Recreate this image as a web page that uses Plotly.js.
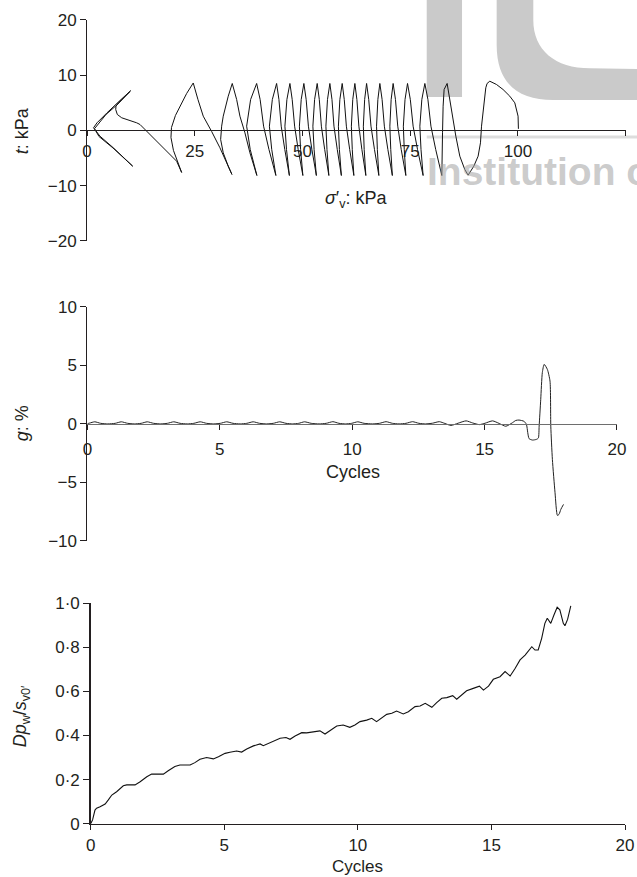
<!DOCTYPE html>
<html>
<head>
<meta charset="utf-8">
<script src="https://cdn.plot.ly/plotly-3.0.1.min.js"></script>
<style>
html,body{margin:0;padding:0;background:#fff;}
#chart{width:637px;height:877px;}
</style>
</head>
<body>
<div id="chart"></div>
<script>
// ---- Panel 1: stress path  t vs sigma'v (kPa)
const sigmaV = [
100.10,100.02,99.26,98.10,96.54,95.01,93.46,
92.83,92.53,92.30,91.91,91.54,91.30,90.75,89.75,88.43,
87.66,86.50,85.58,84.95,84.35,83.79,83.56,
82.86,82.63,82.49,82.40,82.33,
80.91,79.80,79.10,78.39, 77.69,77.23,77.50,77.99,
76.69,75.67,75.02,74.37, 73.79,73.40,73.61,73.98,
72.91,72.10,71.57,71.03, 70.57,70.27,70.48,70.85,
69.81,68.99,68.47,67.95, 67.49,67.18,67.37,67.72,
66.70,65.89,65.37,64.87, 64.42,64.12,64.31,64.70,
63.78,63.08,62.62,62.15, 61.66,61.34,61.55,61.92,
60.95,60.18,59.69,59.21, 58.67,58.33,58.56,59.02,
58.07,57.30,56.84,56.35, 55.80,55.43,55.68,56.12,
55.15,54.38,53.90,53.41, 52.81,52.41,52.69,53.22,
52.18,51.37,50.85,50.32, 49.70,49.28,49.56,50.09,
49.00,48.17,47.61,47.08, 46.38,45.92,46.29,46.96,
45.89,45.06,44.53,43.99, 43.00,42.32,42.86,43.83,
42.22,40.97,40.17,39.36, 37.96,37.04,37.87,39.42,
37.80,36.64,35.48,34.72,33.70, 32.77,31.61,31.24,31.01,31.61,32.77,33.63,
32.24,30.84,28.92,26.97,25.74,24.65, 23.12,21.96,20.52,19.60,19.48,20.06,20.99,21.96,
20.80,19.25,16.93,15.38,13.45,12.29,11.53,9.97,8.05,7.03,6.66,6.73,7.26,8.05,9.21,10.13,
7.65,4.64,2.32,1.51,3.01,6.10,10.60,6.03,2.78,1.74,4.41,7.19,9.86
];
const tauT = [
0.30,2.59,5.01,6.21,7.42,8.33,8.92,
8.51,7.73,6.21,3.80,0.78,-2.23,-4.65,-6.46,-8.09,
-7.06,-4.65,-1.03,1.99,5.01,7.42,8.51,
7.42,4.40,-0.42,-4.65,-8.15,
-3.44,0.78,5.61,8.51, 5.61,0.78,-3.44,-8.15,
-3.44,0.78,5.61,8.51, 5.61,0.78,-3.44,-8.15,
-3.44,0.78,5.61,8.51, 5.61,0.78,-3.44,-8.15,
-3.44,0.78,5.61,8.51, 5.61,0.78,-3.44,-8.15,
-3.44,0.78,5.61,8.51, 5.61,0.78,-3.44,-8.15,
-3.44,0.78,5.61,8.51, 5.61,0.78,-3.44,-8.15,
-3.44,0.78,5.61,8.51, 5.61,0.78,-3.44,-8.15,
-3.44,0.78,5.61,8.51, 5.61,0.78,-3.44,-8.15,
-3.44,0.78,5.61,8.51, 5.61,0.78,-3.44,-8.15,
-3.44,0.78,5.61,8.51, 5.61,0.78,-3.44,-8.15,
-3.44,0.78,5.61,8.51, 5.61,0.78,-3.44,-8.15,
-3.44,0.78,5.61,8.51, 5.61,0.78,-3.44,-8.15,
-3.44,0.78,5.61,8.51, 5.61,0.78,-3.44,-8.15,
-4.04,-0.42,2.59,5.61,8.51, 6.21,2.59,0.78,-1.63,-4.04,-6.46,-7.96,
-5.79,-3.13,-0.18,2.59,5.61,8.60, 6.70,5.01,2.72,0.54,-1.27,-3.62,-5.43,-7.60,
-5.56,-4.34,-2.53,-1.32,0.18,1.09,1.39,1.86,2.30,2.90,3.80,4.40,5.01,5.61,6.52,7.20,
5.43,3.20,1.39,0.49,-1.03,-3.13,-6.46,-3.17,-1.09,0.33,2.90,4.80,6.97
];
const sigmaTicks = [0, 25, 50, 75, 100, 125];
const tauTicks = [-20, -10, 0, 10, 20];

// ---- Panel 2: shear strain g (%) vs cycles
const gCycles = [
0,0.08,0.28,0.50,0.77,1.05,1.28,1.52,1.77,2.03,2.26,2.50,2.77,3.02,3.26,3.50,3.77,
4.02,4.26,4.50,4.77,5.02,5.26,5.50,5.77,6.02,6.26,6.50,6.77,7.02,7.26,7.50,7.75,
7.98,8.20,8.45,8.75,9.02,9.27,9.50,9.75,9.98,10.21,10.45,10.77,11.03,11.28,11.52,11.77,
12.03,12.28,12.52,12.77,13.03,13.29,13.50,13.73,14.00,14.30,14.55,14.80,15.02,15.30,15.55,15.80,
16.05,16.18,16.30,16.49,16.58,16.63,16.68,16.81,16.96,17.03,17.06,17.12,17.18,17.25,17.37,17.47,
17.50,17.56,17.66,17.75,17.81,17.88,17.98
];
const gStrain = [
0,0.05,0.16,0.03,-0.02,0.03,0.16,0.03,-0.02,0.03,0.16,0.03,-0.02,0.03,0.16,0.03,-0.02,
0.03,0.16,0.03,-0.02,0.03,0.16,0.03,-0.02,0.03,0.16,0.03,-0.02,0.03,0.16,0.03,-0.02,
0.03,0.16,0.03,-0.02,0.03,0.17,0.03,-0.02,0.03,0.16,0.03,-0.02,0.03,0.17,0.03,-0.02,
0.03,0.17,0.03,-0.02,0.04,0.17,0.02,-0.15,0.04,0.24,0.06,-0.08,0.04,0.24,0.02,-0.22,
0.08,0.28,0.31,0.20,-0.06,-0.77,-1.28,-1.40,-1.34,-1.23,-0.21,2.08,4.36,5.07,4.64,3.64,
-0.21,-3.05,-5.90,-7.84,-7.75,-7.32,-6.90
];
const cycleTicks = [0, 5, 10, 15, 20];
const gTicks = [-10, -5, 0, 5, 10];

// ---- Panel 3: pore pressure ratio vs cycles
const pwCycles = [
0,0.07,0.16,0.22,0.35,0.54,0.66,0.79,0.97,1.10,1.22,1.35,1.66,1.85,2.10,2.28,2.72,2.90,3.15,3.34,
3.72,3.90,4.09,4.34,4.59,4.78,5.03,5.21,5.46,5.65,5.84,6.09,6.34,6.46,6.65,6.84,7.09,7.31,7.46,7.65,
7.90,8.08,8.33,8.58,8.77,9.02,9.21,9.45,9.70,9.89,10.08,10.33,10.52,10.70,10.89,11.08,11.27,11.45,11.70,11.89,
12.14,12.33,12.52,12.77,12.95,13.14,13.33,13.55,13.70,13.89,14.07,14.32,14.55,14.70,14.89,15.07,15.32,15.51,15.70,15.89,
16.07,16.26,16.51,16.63,16.75,16.88,17.00,17.09,17.22,17.34,17.46,17.56,17.69,17.75,17.85,17.97
];
const pwRatio = [
0,0.017,0.062,0.070,0.077,0.089,0.108,0.130,0.145,0.160,0.172,0.176,0.176,0.190,0.213,0.225,0.225,0.240,0.259,0.266,
0.266,0.277,0.292,0.300,0.294,0.304,0.319,0.324,0.330,0.325,0.339,0.353,0.362,0.354,0.365,0.377,0.388,0.391,0.383,0.398,
0.413,0.412,0.418,0.421,0.407,0.428,0.443,0.448,0.437,0.448,0.463,0.470,0.478,0.463,0.478,0.496,0.501,0.511,0.498,0.508,
0.531,0.534,0.546,0.528,0.549,0.569,0.572,0.581,0.565,0.584,0.603,0.614,0.624,0.606,0.624,0.655,0.667,0.690,0.670,0.705,
0.743,0.765,0.803,0.788,0.788,0.841,0.909,0.932,0.909,0.947,0.982,0.970,0.909,0.898,0.927,0.988
];
const pwTicks = [0, 0.2, 0.4, 0.6, 0.8, 1.0];
const pwTickText = ['0', '0·2', '0·4', '0·6', '0·8', '1·0'];

const INK = '#231f20';
const FONT = 'Liberation Sans, Arial, Helvetica, sans-serif';

const traces = [
  {x: sigmaV, y: tauT, xaxis: 'x', yaxis: 'y', type: 'scatter', mode: 'lines',
   line: {color: '#111', width: 1}, hoverinfo: 'skip'},
  {x: gCycles, y: gStrain, xaxis: 'x2', yaxis: 'y2', type: 'scatter', mode: 'lines',
   line: {color: '#222', width: 1, shape: 'spline', smoothing: 0.6}, hoverinfo: 'skip'},
  {x: pwCycles, y: pwRatio, xaxis: 'x3', yaxis: 'y3', type: 'scatter', mode: 'lines',
   line: {color: '#111', width: 1.1}, hoverinfo: 'skip'}
];

function xAx(extra) {
  return Object.assign({
    showline: true, linecolor: INK, linewidth: 1, ticks: 'outside', ticklen: 5,
    tickcolor: INK, tickwidth: 1, showgrid: false, zeroline: false,
    tickfont: {family: FONT, size: 17, color: INK}, tickmode: 'array'
  }, extra);
}
function yAx(extra) {
  return Object.assign({
    showline: true, linecolor: INK, linewidth: 1, ticks: 'outside', ticklen: 6,
    tickcolor: INK, tickwidth: 1, showgrid: false, zeroline: false,
    tickfont: {family: FONT, size: 17, color: INK}, tickmode: 'array'
  }, extra);
}

const WM = '#cacaca';
const layout = {
  width: 637, height: 877,
  margin: {l: 0, r: 0, t: 0, b: 0},
  paper_bgcolor: '#ffffff', plot_bgcolor: 'rgba(0,0,0,0)',
  showlegend: false,
  font: {family: FONT, size: 17, color: INK},
  xaxis: xAx({domain: [0.1366, 0.9823], range: [0, 125], anchor: 'free', position: 0.8512,
              tickvals: sigmaTicks}),
  yaxis: yAx({domain: [0.7252, 0.9772], range: [-20, 20], anchor: 'x', tickvals: tauTicks}),
  xaxis2: xAx({domain: [0.1372, 0.9686], range: [0, 20], anchor: 'free', position: 0.5169,
               tickvals: cycleTicks, linecolor: '#6e6e6e', ticklabelstandoff: 5}),
  yaxis2: yAx({domain: [0.3835, 0.6503], range: [-10, 10], anchor: 'x2', tickvals: gTicks}),
  xaxis3: xAx({domain: [0.1424, 0.9812], range: [0, 20], anchor: 'y3', tickvals: cycleTicks,
               linewidth: 1.5, ticklabelstandoff: 0}),
  yaxis3: yAx({domain: [0.0608, 0.3121], range: [0, 1], anchor: 'x3', tickvals: pwTicks,
               ticktext: pwTickText, linewidth: 1.5}),
  shapes: [
    {type: 'rect', xref: 'paper', yref: 'paper', x0: 0.6699, x1: 0.7253, y0: 0.8894, y1: 1.01,
     fillcolor: WM, line: {width: 0}, layer: 'below'},
    {type: 'path', xref: 'paper', yref: 'paper', layer: 'below', fillcolor: WM, line: {width: 0},
     path: 'M 0.7797 1.01 L 0.7797 0.9487 C 0.7797 0.9031, 0.8163 0.8860, 0.8681 0.8860 L 1.01 0.8860 L 1.01 0.9213 L 0.9262 0.9221 C 0.8713 0.9221, 0.8372 0.9430, 0.8372 0.9772 L 0.8372 1.01 Z'},
    {type: 'line', xref: 'paper', yref: 'paper', layer: 'below', x0: 0.6699, x1: 1.01,
     y0: 0.8438, y1: 0.8438, line: {color: '#dddddd', width: 3}}
  ],
  annotations: [
    {xref: 'paper', yref: 'paper', x: 0.667, y: 0.8045, xanchor: 'left', yanchor: 'middle',
     text: '<b>Institution of</b>', showarrow: false,
     font: {family: FONT, size: 39, color: 'rgba(160,160,160,0.55)'}},
    {xref: 'paper', yref: 'paper', x: 0.035, y: 0.8506, xanchor: 'center', yanchor: 'middle',
     text: '<i>t</i>: kPa', textangle: -90, showarrow: false, font: {family: FONT, size: 18, color: INK}},
    {xref: 'paper', yref: 'paper', x: 0.5597, y: 0.772, xanchor: 'center', yanchor: 'middle',
     text: '<i>σ</i>′<sub>v</sub>: kPa', showarrow: false, font: {family: FONT, size: 18, color: INK}},
    {xref: 'paper', yref: 'paper', x: 0.035, y: 0.5177, xanchor: 'center', yanchor: 'middle',
     text: '<i>g</i>: %', textangle: -90, showarrow: false, font: {family: FONT, size: 18, color: INK}},
    {xref: 'paper', yref: 'paper', x: 0.5537, y: 0.4622, xanchor: 'center', yanchor: 'middle',
     text: 'Cycles', showarrow: false, font: {family: FONT, size: 18, color: INK}},
    {xref: 'paper', yref: 'paper', x: 0.034, y: 0.1828, xanchor: 'center', yanchor: 'middle',
     text: '<i>Dp</i><sub>w</sub>/<i>s</i><sub>v0′</sub>', textangle: -90, showarrow: false,
     font: {family: FONT, size: 18, color: INK}},
    {xref: 'paper', yref: 'paper', x: 0.5605, y: 0.0125, xanchor: 'center', yanchor: 'middle',
     text: 'Cycles', showarrow: false, font: {family: FONT, size: 17, color: INK}}
  ]
};

Plotly.newPlot('chart', traces, layout, {staticPlot: true, displayModeBar: false});
</script>
</body>
</html>
